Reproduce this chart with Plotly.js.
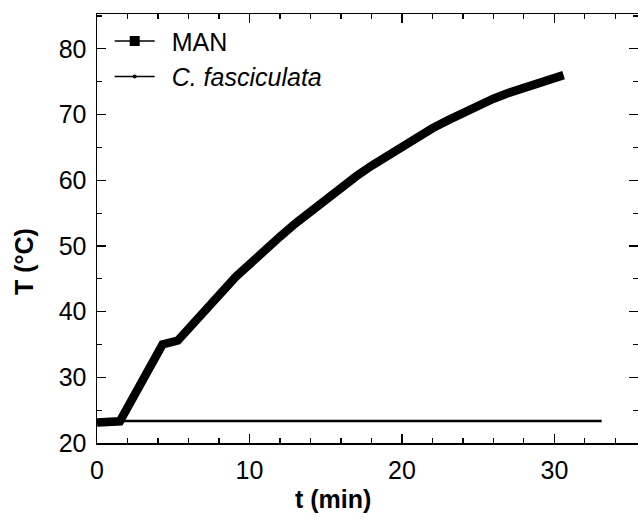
<!DOCTYPE html>
<html>
<head>
<meta charset="utf-8">
<script src="https://cdn.plot.ly/plotly-3.0.1.min.js"></script>
<style>html,body{margin:0;padding:0;background:#fff;}#chart{width:638px;height:521px;}</style>
</head>
<body>
<div id="chart"></div>
<script>
// MAN heating curve (time in min, temperature in °C)
var manTime = [0, 1.5, 4.3, 5.3, 9.1, 10, 11, 12, 13, 14, 15, 16, 17, 18, 19, 20, 21, 22, 23, 24, 25, 26, 27, 28, 29, 30, 30.6];
var manTemp = [23.1, 23.3, 35.0, 35.6, 45.3, 47.3, 49.4, 51.4, 53.4, 55.3, 57.1, 58.9, 60.6, 62.2, 63.7, 65.2, 66.6, 67.9, 69.1, 70.3, 71.4, 72.4, 73.3, 74.1, 74.9, 75.6, 76.0];
// C. fasciculata (flat)
var cfTime = [0, 33.1];
var cfTemp = [23.35, 23.35];

var seriesNames = ['MAN', '<i>C. fasciculata</i>'];
var xTickVals = [0, 10, 20, 30];
var yTickVals = [20, 30, 40, 50, 60, 70, 80];
var xTitle = 't (min)';
var yTitle = 'T (°C)';

var fontFam = 'Liberation Sans, Arial, sans-serif';
var fs = 25;

var traces = [
  {x: manTime, y: manTemp, mode: 'lines', line: {color: '#000', width: 8.5}, showlegend: false, hoverinfo: 'skip'},
  {x: cfTime, y: cfTemp, mode: 'lines', line: {color: '#000', width: 2.5}, showlegend: false, hoverinfo: 'skip'},
  {x: [null], y: [null], name: '\u00a0\u2009' + seriesNames[0], mode: 'lines+markers', line: {color: '#000', width: 1.5}, marker: {symbol: 'square', size: 10, color: '#000'}},
  {x: [null], y: [null], name: '\u00a0\u2009' + seriesNames[1], mode: 'lines+markers', line: {color: '#000', width: 1.5}, marker: {symbol: 'circle', size: 4, color: '#000'}}
];

var axisCommon = {
  showgrid: false, zeroline: false, showline: true, linecolor: '#000', linewidth: 1.5,
  mirror: 'ticks', ticks: 'inside', ticklen: 9, tickwidth: 1.3, tickcolor: '#000',
  tickfont: {family: fontFam, size: fs, color: '#000'}, ticklabelstandoff: 4
};

var layout = {
  width: 638, height: 521,
  margin: {l: 97, r: 0, t: 14, b: 78},
  paper_bgcolor: '#fff', plot_bgcolor: '#fff',
  font: {family: fontFam, color: '#000'},
  xaxis: Object.assign({}, axisCommon, {
    range: [0, 35.48], tickvals: xTickVals, ticktext: xTickVals.map(String),
    minor: {dtick: 2, ticks: 'inside', ticklen: 5, tickwidth: 1.1, tickcolor: '#000'}
  }),
  yaxis: Object.assign({}, axisCommon, {
    range: [20, 85.3], tickvals: yTickVals, ticktext: yTickVals.map(String),
    minor: {dtick: 5, ticks: 'inside', ticklen: 5, tickwidth: 1.1, tickcolor: '#000'}
  }),
  annotations: [
    {text: '<b>' + xTitle + '</b>', xref: 'paper', yref: 'paper', x: 0.436, y: -0.131, xanchor: 'center', yanchor: 'middle', showarrow: false, font: {family: fontFam, size: fs, color: '#000'}},
    {text: '<b>' + yTitle + '</b>', xref: 'paper', yref: 'paper', x: -0.135, y: 0.424, xanchor: 'center', yanchor: 'middle', textangle: -90, showarrow: false, font: {family: fontFam, size: fs, color: '#000'}}
  ],
  legend: {
    x: 0.0235, y: 0.99, xanchor: 'left', yanchor: 'top',
    bgcolor: 'rgba(0,0,0,0)', font: {family: fontFam, size: fs, color: '#000'},
    itemwidth: 40, tracegroupgap: 0
  },
  showlegend: true
};

Plotly.newPlot('chart', traces, layout, {displayModeBar: false, staticPlot: true});
</script>
</body>
</html>
